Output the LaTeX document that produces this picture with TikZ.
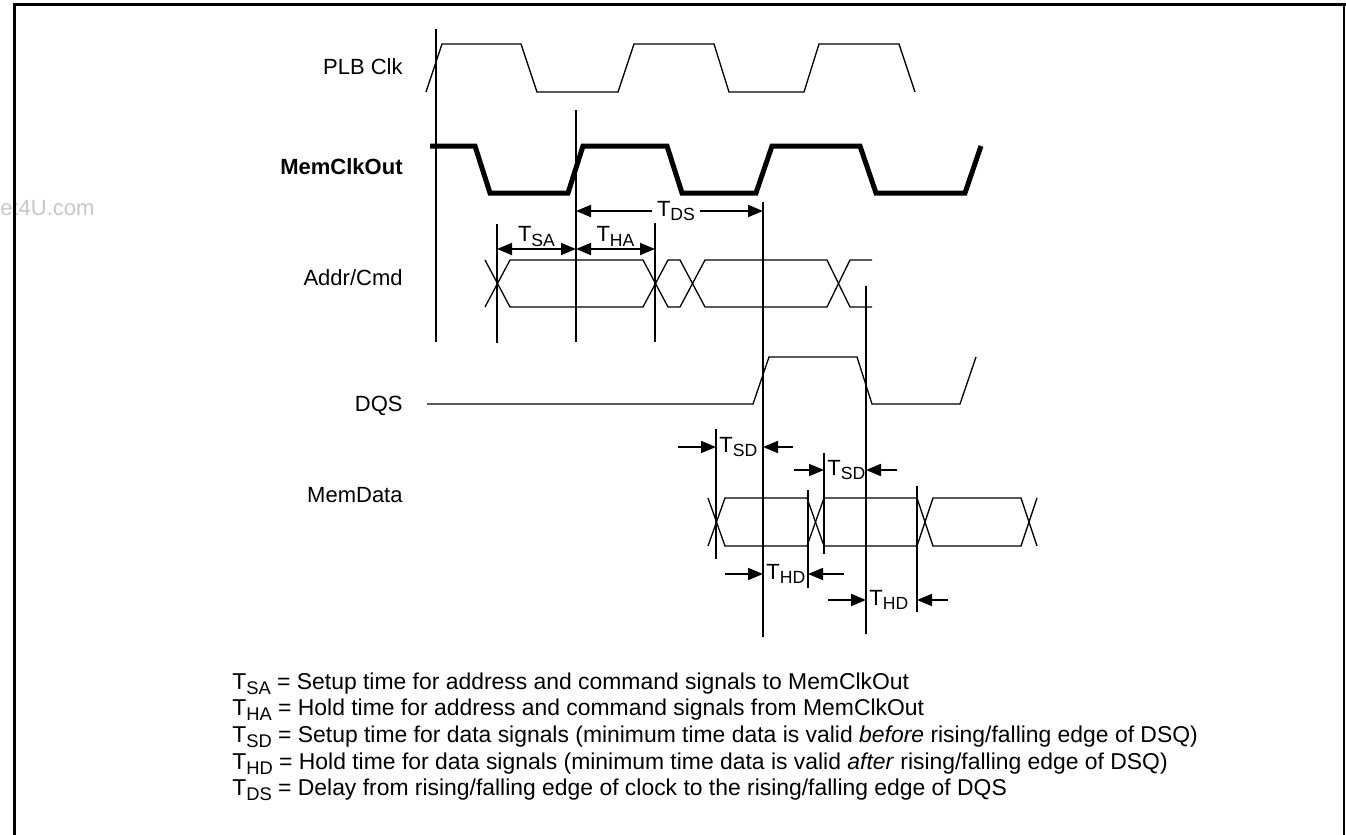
\documentclass[tikz,border=0pt]{standalone}
\usepackage{graphicx}
\usepackage{fontspec}
\setmainfont{Liberation Sans}
\usetikzlibrary{arrows.meta,calc}
\newcommand{\tsub}[2]{#1\raisebox{-0.22em}{\scalebox{0.8}{#2}}}
\tikzset{
  frameline/.style={line width=1.5pt, line cap=rect},
  sigline/.style={line width=0.65pt, line join=miter},
  clkline/.style={line width=2.5pt, line join=miter},
  refline/.style={line width=0.9pt},
  dimto/.style={line width=0.9pt, -{Triangle[length=7.5pt,width=6pt]}},
  dimboth/.style={line width=0.9pt, {Triangle[length=7.5pt,width=6pt]}-{Triangle[length=7.5pt,width=6pt]}},
  siglabel/.style={anchor=base east, inner sep=0pt, font=\fontsize{11}{13}\selectfont},
  tlabel/.style={inner sep=1pt, font=\fontsize{11}{13}\selectfont},
  legendline/.style={anchor=base west, inner sep=0pt, font=\fontsize{11.45}{13}\selectfont},
}

\begin{document}
\begin{tikzpicture}[x=0.5pt, y=-0.5pt]
\useasboundingbox (0,0) rectangle (1346,835);
\node[anchor=base west, inner sep=0pt, text=black!22, font=\fontsize{11}{13}\selectfont] (wmark) at (0,215) {et4U.com};
\draw[frameline] (14,835) -- (14,4) -- (1344,4);
\draw[line width=0.8pt] (1344,4) -- (1344,835);

\node[siglabel] (plbclk) at (403,75) {PLB Clk};
\node[siglabel, font=\fontsize{11}{13}\selectfont\bfseries] (memclkout) at (403,174) {MemClkOut};
\node[siglabel] (addrcmd) at (403,285) {Addr/Cmd};
\node[siglabel] (dqs) at (403,411) {DQS};
\node[siglabel] (memdata) at (403,502) {MemData};

\draw[sigline] (426,92) -- (442,44) -- (521,44) -- (537,92) -- (618,92) -- (634,44) -- (714,44) -- (729,92) -- (804,92) -- (819,44) -- (899,44) -- (915,92);
\draw[clkline] (430,146) -- (475,146) -- (490,193) -- (568,193) -- (583,146) -- (667,146) -- (682,193) -- (756,193) -- (772,146) -- (860,146) -- (876,193) -- (965,193) -- (981,146);
\draw[sigline] (485,260) -- (510,307) -- (643,307) -- (668,260) -- (680,260) -- (705,307) -- (827,307) -- (850,260) -- (872,260);
\draw[sigline] (485,307) -- (510,260) -- (643,260) -- (668,307) -- (680,307) -- (705,260) -- (827,260) -- (850,307) -- (872,307);
\draw[sigline] (427,404) -- (753,404) -- (769,357) -- (857,357) -- (872,404) -- (960,404) -- (976,357);
\draw[sigline] (708,498) -- (725,546) -- (807,546) -- (824,498) -- (917,498) -- (933,546) -- (1021,546) -- (1037,498);
\draw[sigline] (708,546) -- (725,498) -- (807,498) -- (824,546) -- (917,546) -- (933,498) -- (1021,498) -- (1037,546);

\draw[refline] (436,29) -- (436,342);
\draw[refline] (576,110) -- (576,342);
\draw[refline] (497,224) -- (497,343);
\draw[refline] (655,223) -- (655,342);
\draw[refline] (763,202) -- (763,637);
\draw[refline] (866,286) -- (866,634);
\draw[refline] (716,429) -- (716,559);
\draw[refline] (808,490) -- (808,588);
\draw[refline] (824,453) -- (824,554);
\draw[refline] (917,486) -- (917,612);

\coordinate (tds-l) at (576,211);
\coordinate (tds-r) at (763,211);
\coordinate (tsa-l) at (497,249);
\coordinate (tsa-r) at (576,249);
\coordinate (tha-r) at (655,249);
\draw[dimboth] (tds-l) -- (tds-r);
\node[tlabel, fill=white, inner xsep=2.5pt] (tds) at (676,211) {\tsub{T}{DS}};
\draw[dimboth] (tsa-l) -- (tsa-r);
\draw[dimboth] (tsa-r) -- (tha-r);
\node[tlabel, anchor=south] (tsa) at ($(tsa-l)!0.5!(tsa-r)$) {\tsub{T}{SA}};
\node[tlabel, anchor=south] (tha) at ($(tsa-r)!0.5!(tha-r)$) {\tsub{T}{HA}};

\coordinate (tsd1-a) at (678,447);
\coordinate (tsd1-l) at (716,447);
\coordinate (tsd1-b) at (793,447);
\coordinate (tsd1-r) at (763,447);
\coordinate (tsd2-a) at (794,470);
\coordinate (tsd2-l) at (824,470);
\coordinate (tsd2-b) at (897,470);
\coordinate (tsd2-r) at (866,470);
\coordinate (thd1-a) at (725,574);
\coordinate (thd1-l) at (763,574);
\coordinate (thd1-b) at (844,574);
\coordinate (thd1-r) at (808,574);
\coordinate (thd2-a) at (828,600);
\coordinate (thd2-l) at (866,600);
\coordinate (thd2-b) at (948,600);
\coordinate (thd2-r) at (917,600);
\draw[dimto] (tsd1-a) -- (tsd1-l);
\draw[dimto] (tsd1-b) -- (tsd1-r);
\node[tlabel, anchor=west, inner sep=1.5pt] (tsd1) at (tsd1-l) {\tsub{T}{SD}};
\draw[dimto] (tsd2-a) -- (tsd2-l);
\draw[dimto] (tsd2-b) -- (tsd2-r);
\node[tlabel, anchor=west, inner sep=1.5pt] (tsd2) at (tsd2-l) {\tsub{T}{SD}};
\draw[dimto] (thd1-a) -- (thd1-l);
\draw[dimto] (thd1-b) -- (thd1-r);
\node[tlabel, anchor=west, inner sep=1.5pt] (thd1) at (thd1-l) {\tsub{T}{HD}};
\draw[dimto] (thd2-a) -- (thd2-l);
\draw[dimto] (thd2-b) -- (thd2-r);
\node[tlabel, anchor=west, inner sep=1.5pt] (thd2) at (thd2-l) {\tsub{T}{HD}};

\node[legendline] (leg-sa) at (232,689) {\tsub{T}{SA} = Setup time for address and command signals to MemClkOut};
\node[legendline] (leg-ha) at (232,715.7) {\tsub{T}{HA} = Hold time for address and command signals from MemClkOut};
\node[legendline] (leg-sd) at (232,742.3) {\tsub{T}{SD} = Setup time for data signals (minimum time data is valid \emph{before} rising/falling edge of DSQ)};
\node[legendline] (leg-hd) at (232,769) {\tsub{T}{HD} = Hold time for data signals (minimum time data is valid \emph{after} rising/falling edge of DSQ)};
\node[legendline] (leg-ds) at (232,795.6) {\tsub{T}{DS} = Delay from rising/falling edge of clock to the rising/falling edge of DQS};
\end{tikzpicture}
\end{document}
